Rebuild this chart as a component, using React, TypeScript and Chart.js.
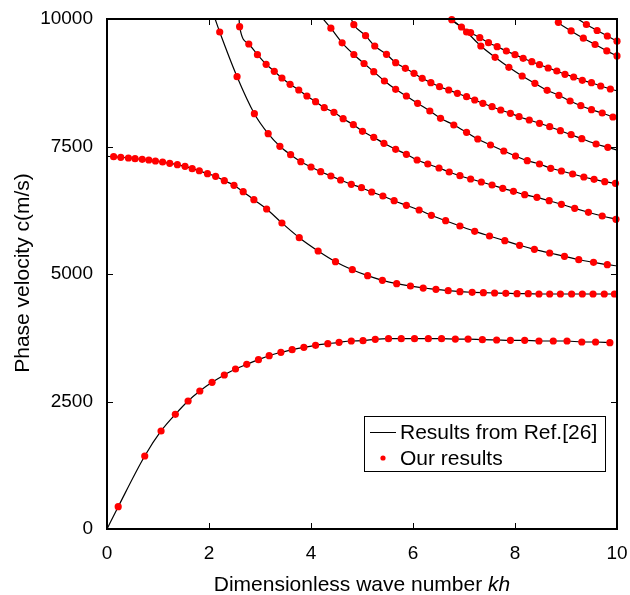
import React, { useEffect, useRef } from "react";
import { Chart, registerables } from "chart.js";

Chart.register(...registerables);

type P = [number, number];

const FONT = "'Liberation Sans', Arial, Helvetica, sans-serif";

// axis ranges / ticks
const xMin = 0;
const xMax = 10;
const xStep = 2;
const yMin = 0;
const yMax = 10000;
const yStep = 2500;

const xTitle = "Dimensionless wave number ";
const xTitleItalic = "kh";
const yTitle = "Phase velocity c(m/s)";
const legendLine = "Results from Ref.[26]";
const legendDots = "Our results";

// "Our results" (red dots), one array per mode
const mode0Dots: P[] = [
  [0.22, 437], [0.74, 1431], [1.06, 1922], [1.34, 2249], [1.59, 2510], [1.82, 2706],
  [2.06, 2876], [2.3, 3020], [2.52, 3137], [2.74, 3229], [2.97, 3320], [3.18, 3398],
  [3.41, 3465], [3.63, 3516], [3.86, 3563], [4.09, 3602], [4.33, 3633], [4.55, 3661],
  [4.79, 3686], [5.02, 3692], [5.26, 3720], [5.52, 3731], [5.77, 3731], [6.03, 3731],
  [6.3, 3731], [6.56, 3731], [6.83, 3725], [7.08, 3725], [7.36, 3712], [7.64, 3706],
  [7.91, 3700], [8.19, 3700], [8.47, 3686], [8.75, 3686], [9.02, 3686], [9.31, 3667],
  [9.58, 3667], [9.86, 3653],
];
const mode1Dots: P[] = [
  [0.13, 7300], [0.27, 7288], [0.42, 7275], [0.55, 7261], [0.69, 7249], [0.82, 7235],
  [0.95, 7216], [1.09, 7196], [1.23, 7171], [1.38, 7143], [1.53, 7112], [1.67, 7065],
  [1.81, 7025], [1.97, 6967], [2.13, 6916], [2.3, 6829], [2.49, 6739], [2.67, 6614],
  [2.88, 6457], [3.13, 6275], [3.43, 6000], [3.77, 5712], [4.14, 5451], [4.48, 5241],
  [4.81, 5084], [5.11, 4967], [5.4, 4876], [5.68, 4810], [5.95, 4765], [6.2, 4725],
  [6.45, 4700], [6.69, 4673], [6.92, 4653], [7.16, 4641], [7.38, 4633], [7.6, 4627],
  [7.82, 4622], [8.04, 4614], [8.26, 4614], [8.47, 4608], [8.68, 4608], [8.89, 4608],
  [9.11, 4608], [9.32, 4608], [9.53, 4608], [9.75, 4608], [9.95, 4608],
];
const mode2Dots: P[] = [
  [2.21, 9745], [2.55, 8869], [2.89, 8143], [3.16, 7751], [3.39, 7504], [3.6, 7339],
  [3.8, 7202], [4.0, 7098], [4.19, 7006], [4.39, 6922], [4.58, 6843], [4.79, 6759],
  [4.99, 6692], [5.19, 6608], [5.41, 6529], [5.63, 6437], [5.87, 6347], [6.12, 6255],
  [6.36, 6151], [6.64, 6045], [6.92, 5941], [7.21, 5837], [7.5, 5745], [7.8, 5653],
  [8.09, 5563], [8.38, 5484], [8.68, 5412], [8.97, 5347], [9.25, 5280], [9.54, 5229],
  [9.81, 5182],
];
const mode3Dots: P[] = [
  [2.6, 9849], [2.78, 9510], [2.95, 9300], [3.12, 9112], [3.28, 8975], [3.43, 8843],
  [3.59, 8720], [3.76, 8608], [3.92, 8490], [4.09, 8378], [4.26, 8261], [4.45, 8171],
  [4.63, 8045], [4.83, 7927], [5.01, 7798], [5.23, 7680], [5.43, 7563], [5.66, 7445],
  [5.87, 7347], [6.08, 7235], [6.29, 7157], [6.51, 7078], [6.71, 7000], [6.92, 6927],
  [7.13, 6863], [7.34, 6804], [7.55, 6745], [7.76, 6680], [7.97, 6622], [8.19, 6555],
  [8.43, 6504], [8.67, 6437], [8.91, 6367], [9.17, 6288], [9.44, 6210], [9.71, 6137],
  [9.98, 6073],
];
const mode4Dots: P[] = [
  [4.39, 9820], [4.61, 9533], [4.84, 9304], [5.04, 9127], [5.23, 8967], [5.44, 8784],
  [5.66, 8622], [5.87, 8490], [6.09, 8347], [6.33, 8196], [6.54, 8053], [6.8, 7922],
  [7.05, 7778], [7.27, 7647], [7.52, 7529], [7.78, 7412], [8.01, 7314], [8.24, 7222],
  [8.48, 7157], [8.7, 7073], [8.91, 7020], [9.13, 6961], [9.35, 6902], [9.55, 6857],
  [9.76, 6810], [9.97, 6778],
];
const mode5Dots: P[] = [
  [4.84, 9888], [5.07, 9673], [5.25, 9471], [5.48, 9308], [5.66, 9143], [5.85, 9033],
  [6.02, 8935], [6.18, 8837], [6.35, 8751], [6.52, 8673], [6.7, 8608], [6.87, 8543],
  [7.05, 8476], [7.21, 8412], [7.37, 8347], [7.55, 8280], [7.72, 8216], [7.91, 8151],
  [8.08, 8084], [8.28, 8020], [8.48, 7955], [8.68, 7888], [8.89, 7810], [9.1, 7731],
  [9.31, 7653], [9.59, 7549], [9.82, 7484],
];
const mode6Dots: P[] = [
  [6.76, 9986], [7.05, 9745], [7.33, 9471], [7.61, 9249], [7.88, 9053], [8.14, 8882],
  [8.39, 8739], [8.63, 8602], [8.86, 8504], [9.08, 8392], [9.29, 8300], [9.5, 8222],
  [9.71, 8157], [9.92, 8078],
];
const mode7Dots: P[] = [
  [6.95, 9843], [7.13, 9731], [7.31, 9633], [7.48, 9535], [7.65, 9457], [7.83, 9373],
  [8.0, 9300], [8.16, 9229], [8.33, 9163], [8.48, 9104], [8.65, 9039], [8.82, 8980],
  [8.98, 8916], [9.15, 8863], [9.32, 8798], [9.5, 8751], [9.68, 8686], [9.87, 8627],
];
const mode8Dots: P[] = [
  [8.85, 9935], [9.1, 9767], [9.34, 9624], [9.57, 9500], [9.8, 9375], [10.0, 9276],
];
const mode9Dots: P[] = [
  [9.4, 9892], [9.61, 9775], [9.81, 9667], [10.0, 9565],
];

// "Results from Ref.[26]" (black curves): where each curve enters / leaves the frame
const modeStarts: P[] = [
  [0, 0], [0, 7305], [2.12, 10000], [2.59, 10000], [4.24, 10000],
  [4.79, 10000], [6.72, 10000], [6.72, 10000], [8.8, 10000], [9.23, 10000],
];
const modeEnds: (P | null)[] = [
  null, null, [10, 5160], null, null, [10, 7430], [10, 8050], [10, 8590], null, null,
];

const allDots: P[][] = [
  mode0Dots, mode1Dots, mode2Dots, mode3Dots, mode4Dots,
  mode5Dots, mode6Dots, mode7Dots, mode8Dots, mode9Dots,
];

const toXY = (pts: P[]) => pts.map(([x, y]) => ({ x, y }));

const decorPlugin = {
  id: "decor",
  afterDatasetsDraw(chart: any) {
    const { ctx, chartArea: a, scales } = chart;
    const xs = scales.x;
    const ys = scales.y;
    ctx.save();
    ctx.strokeStyle = "#000";
    ctx.lineWidth = 1;
    const tl = 6;
    ctx.beginPath();
    xs.ticks.forEach((t: any) => {
      const px = Math.round(xs.getPixelForValue(t.value)) + 0.5;
      ctx.moveTo(px, a.bottom);
      ctx.lineTo(px, a.bottom - tl);
      ctx.moveTo(px, a.top);
      ctx.lineTo(px, a.top + tl);
    });
    ys.ticks.forEach((t: any) => {
      const py = Math.round(ys.getPixelForValue(t.value)) + 0.5;
      ctx.moveTo(a.left, py);
      ctx.lineTo(a.left + tl, py);
      ctx.moveTo(a.right, py);
      ctx.lineTo(a.right - tl, py);
    });
    ctx.stroke();
    ctx.lineWidth = 2;
    ctx.strokeRect(a.left, a.top, a.right - a.left, a.bottom - a.top);
    ctx.restore();
  },
  afterDraw(chart: any) {
    const { ctx, chartArea: a } = chart;
    ctx.save();
    ctx.fillStyle = "#000";
    // x title with italic "kh"
    const normalFont = `21px ${FONT}`;
    const italicFont = `italic 21px ${FONT}`;
    ctx.font = normalFont;
    const w1 = ctx.measureText(xTitle).width;
    ctx.font = italicFont;
    const w2 = ctx.measureText(xTitleItalic).width;
    const cx = (a.left + a.right) / 2;
    const startX = cx - (w1 + w2) / 2;
    ctx.textBaseline = "alphabetic";
    ctx.textAlign = "left";
    ctx.font = normalFont;
    ctx.fillText(xTitle, startX, 591);
    ctx.font = italicFont;
    ctx.fillText(xTitleItalic, startX + w1, 591);
    // y title
    ctx.font = normalFont;
    ctx.translate(29, (a.top + a.bottom) / 2 - 1);
    ctx.rotate(-Math.PI / 2);
    ctx.textAlign = "center";
    ctx.fillText(yTitle, 0, 0);
    ctx.restore();

    // legend
    ctx.save();
    const bx = 364.5;
    const by = 416.5;
    const bw = 241;
    const bh = 55;
    ctx.fillStyle = "#fff";
    ctx.fillRect(bx, by, bw, bh);
    ctx.strokeStyle = "#000";
    ctx.lineWidth = 1;
    ctx.strokeRect(bx, by, bw, bh);
    ctx.beginPath();
    ctx.moveTo(370, 432.5);
    ctx.lineTo(396, 432.5);
    ctx.stroke();
    ctx.fillStyle = "#ff0000";
    ctx.beginPath();
    ctx.arc(383, 458, 2.6, 0, Math.PI * 2);
    ctx.fill();
    ctx.fillStyle = "#000";
    ctx.font = `21px ${FONT}`;
    ctx.textAlign = "left";
    ctx.textBaseline = "middle";
    ctx.fillText(legendLine, 400, 433);
    ctx.fillText(legendDots, 400, 459);
    ctx.restore();
  },
};

const zeroPad = (s: any) => {
  s.paddingTop = 0;
  s.paddingBottom = 0;
  s.paddingLeft = 0;
  s.paddingRight = 0;
};

export default function App() {
  const ref = useRef<HTMLCanvasElement | null>(null);

  useEffect(() => {
    if (!ref.current) return;
    const dotSets = allDots.map((d) => ({
      type: "scatter" as const,
      data: toXY(d),
      showLine: false,
      pointRadius: 3.6,
      pointHoverRadius: 3.6,
      pointBackgroundColor: "#ff0000",
      pointBorderWidth: 0,
      backgroundColor: "#ff0000",
      borderWidth: 0,
      clip: false as any,
      order: 0,
    }));
    const lineSets = allDots.map((d, i) => {
      const pts: P[] = [modeStarts[i], ...d];
      const e = modeEnds[i];
      if (e) pts.push(e);
      return {
        type: "scatter" as const,
        data: toXY(pts),
        showLine: true,
        pointRadius: 0,
        pointHoverRadius: 0,
        borderColor: "#000",
        borderWidth: 1.2,
        cubicInterpolationMode: "monotone" as const,
        fill: false,
        order: 1,
      };
    });

    const chart = new Chart(ref.current, {
      type: "scatter",
      data: { datasets: [...dotSets, ...lineSets] as any },
      options: {
        animation: false,
        responsive: false,
        devicePixelRatio: 1,
        events: [],
        layout: { padding: { left: 0, right: 13, top: 19, bottom: 0 } },
        plugins: { legend: { display: false }, tooltip: { enabled: false } },
        scales: {
          x: {
            type: "linear",
            min: xMin,
            max: xMax,
            grid: { display: false, drawTicks: false },
            border: { display: false },
            ticks: {
              stepSize: xStep,
              padding: 13,
              color: "#000",
              font: { family: FONT, size: 19 },
              callback: (v: any) => String(v),
            },
            afterFit: (s: any) => {
              s.height = 66;
              zeroPad(s);
            },
          },
          y: {
            type: "linear",
            min: yMin,
            max: yMax,
            grid: { display: false, drawTicks: false },
            border: { display: false },
            ticks: {
              stepSize: yStep,
              padding: 14,
              color: "#000",
              font: { family: FONT, size: 19 },
              callback: (v: any) => String(v),
            },
            afterFit: (s: any) => {
              s.width = 107;
              zeroPad(s);
            },
          },
        },
      },
      plugins: [decorPlugin],
    });
    return () => chart.destroy();
  }, []);

  return (
    <div style={{ position: "absolute", left: 0, top: 0, width: 630, height: 595, background: "#fff" }}>
      <canvas ref={ref} width={630} height={595} style={{ width: 630, height: 595, display: "block" }} />
    </div>
  );
}
